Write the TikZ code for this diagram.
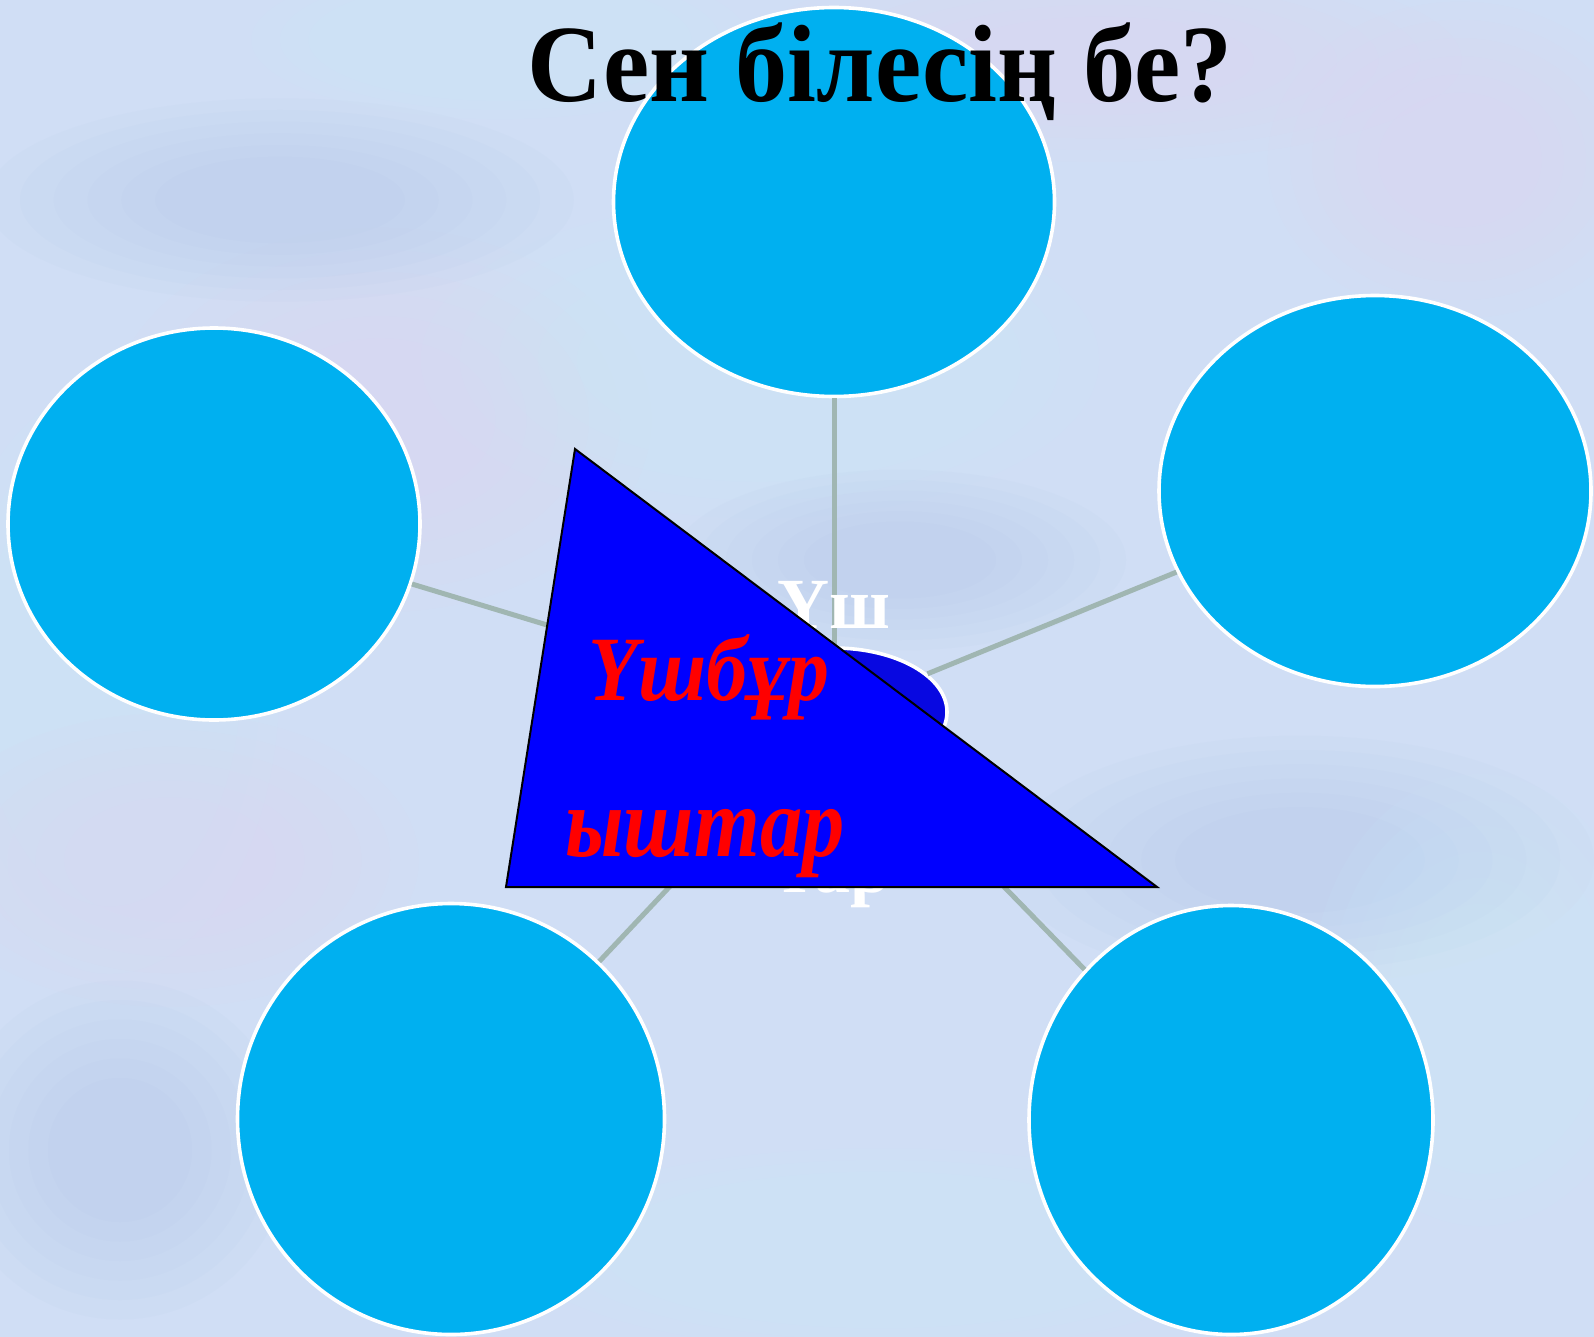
\documentclass[tikz,border=0pt]{standalone}
\usepackage{fontspec}
\setmainfont{Liberation Serif}
\usepackage{graphicx}
\definecolor{bgbase}{RGB}{208,222,245}
\definecolor{bglav}{RGB}{226,212,242}
\definecolor{bgcyan}{RGB}{205,236,252}
\definecolor{bgdeep}{RGB}{180,200,232}
\definecolor{bubble}{RGB}{0,176,240}
\definecolor{spokecol}{RGB}{160,182,178}
\definecolor{hubblue}{RGB}{8,8,225}
\definecolor{tri}{RGB}{0,0,255}
\definecolor{redtxt}{RGB}{255,0,0}
\tikzset{
  bubblenode/.style={ellipse, fill=bubble, draw=white, line width=1.8pt, inner sep=0pt},
  spoke/.style={draw=spokecol, line width=2.5pt},
  hubnode/.style={ellipse, fill=hubblue, draw=white, line width=1.8pt, inner sep=0pt, minimum width=113pt, minimum height=64pt},
  whitetxt/.style={text=white, font=\fontsize{36pt}{40pt}\selectfont\bfseries, inner sep=0pt},
  redlabel/.style={text=redtxt, font=\fontsize{46pt}{50pt}\selectfont\bfseries\itshape, inner sep=0pt, anchor=base west}
}
\newcommand\softpatch[5]{% colour, x, y, rx, ry
  \foreach \k in {1,...,6}{%
    \fill[#1, fill opacity=0.09] (#2,#3) ellipse ({#4*(0.35+0.13*\k)} and {#5*(0.35+0.13*\k)});
  }%
}
\usetikzlibrary{shapes.geometric}
\begin{document}
\begin{tikzpicture}[x=0.5pt,y=-0.5pt]
% background
\fill[bgbase] (0,0) rectangle (1594,1337);
\useasboundingbox (0,0) rectangle (1594,1337);
\softpatch{bglav}{380}{420}{240}{170}
\softpatch{bgcyan}{760}{360}{300}{140}
\softpatch{bglav}{1100}{60}{320}{90}
\softpatch{bgcyan}{110}{680}{150}{260}
\softpatch{bgdeep}{1300}{860}{260}{110}
\softpatch{bglav}{170}{860}{220}{130}
\softpatch{bgcyan}{880}{1250}{320}{90}
\softpatch{bgdeep}{280}{200}{260}{90}
\softpatch{bglav}{1460}{160}{170}{140}
\softpatch{bgdeep}{900}{560}{200}{80}
\softpatch{bgcyan}{1480}{1000}{150}{200}
\softpatch{bgdeep}{120}{1150}{150}{150}
\softpatch{bgcyan}{500}{40}{220}{70}

% outer bubbles
\node[bubblenode, minimum width=220.5pt, minimum height=194.5pt] (top) at (834,202) {};
\node[bubblenode, minimum width=216pt, minimum height=195.5pt] (right) at (1375,491) {};
\node[bubblenode, minimum width=206pt, minimum height=196pt] (left) at (214,524) {};
\node[bubblenode, minimum width=213.5pt, minimum height=215.5pt] (bl) at (451,1119) {};
\node[bubblenode, minimum width=202pt, minimum height=214.5pt] (br) at (1231,1120) {};

% hub
\node[hubnode] (hub) at (834,712) {};
\draw[spoke] (hub) -- (top);
\draw[spoke] (hub) -- (right);
\draw[spoke] (hub) -- (left);
\draw[spoke] (hub) -- (bl);
\draw[spoke] (hub) -- (br);

% hub text (white)
\node[whitetxt, anchor=base west] (h1) at (777,628) {\resizebox{56.5pt}{\height}{Үш}};
\node[whitetxt, anchor=base] (h4) at (834,892) {тар};

% triangle
\coordinate (ta) at (575,449);
\coordinate (tb) at (506,887);
\coordinate (tc) at (1157,887);
\filldraw[fill=tri, draw=black, line width=1pt, line join=miter] (ta) -- (tb) -- (tc) -- cycle;

% red text
\node[redlabel] (r1) at (588,700) {\resizebox{120.5pt}{\height}{Үшбұр}};
\node[redlabel, font=\fontsize{50pt}{54pt}\selectfont\bfseries\itshape] (r2) at (565,856) {\resizebox{139.5pt}{\height}{ыштар}};

% title
\node[inner sep=0pt, anchor=base west, font=\fontsize{55pt}{60pt}\selectfont\bfseries] (title) at (527,102) {\resizebox{352.5pt}{\height}{Сен білесің бе?}};
\end{tikzpicture}
\end{document}
